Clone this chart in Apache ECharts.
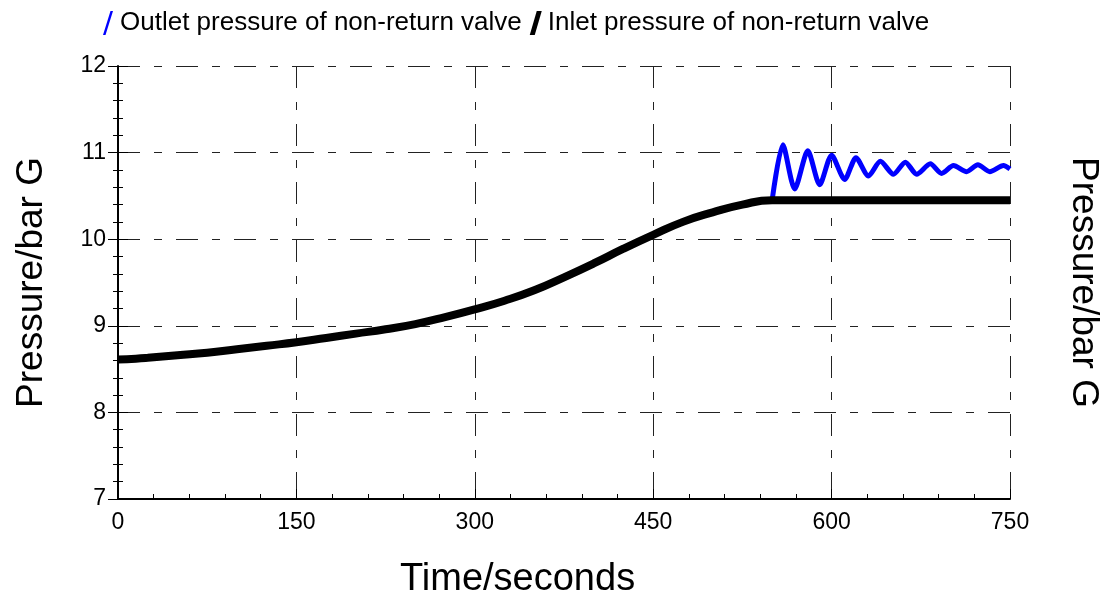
<!DOCTYPE html>
<html>
<head>
<meta charset="utf-8">
<script src="https://cdn.jsdelivr.net/npm/echarts@6/dist/echarts.min.js"></script>
<style>html,body{margin:0;padding:0;background:#fff;overflow:hidden}#c{width:1103px;height:595px}</style>
</head>
<body>
<div id="c"></div>
<script>
var inletTime = [0, 15, 25, 50, 75, 100, 125, 150, 175, 200, 225, 250, 275, 300, 325, 350, 375, 400, 425, 450, 475, 500, 525, 550, 600, 650, 700, 750];
var inletValue = [8.61, 8.62, 8.63, 8.66, 8.69, 8.73, 8.77, 8.81, 8.86, 8.91, 8.96, 9.02, 9.10, 9.19, 9.29, 9.41, 9.56, 9.72, 9.89, 10.05, 10.20, 10.31, 10.40, 10.45, 10.45, 10.45, 10.45, 10.45];
var outletTime = [550, 559, 569, 580, 590, 600, 611, 620.5, 631, 641, 652, 662, 671.5, 683, 692.5, 702.5, 713.5, 723, 733, 744.5, 750];
var outletValue = [10.45, 11.09, 10.58, 11.02, 10.63, 10.97, 10.69, 10.94, 10.73, 10.90, 10.75, 10.89, 10.75, 10.87, 10.76, 10.85, 10.78, 10.86, 10.78, 10.85, 10.81];
var seriesNames = ['Outlet pressure of non-return valve', 'Inlet pressure of non-return valve'];
var xName = 'Time/seconds';
var yName = 'Pressure/bar G';

function pairs(t, v) { return t.map(function (x, i) { return [x, v[i]]; }); }

var FONT = '"Liberation Sans", Arial, sans-serif';
var gridLine = { show: true, lineStyle: { color: '#222', width: 1, type: [22, 14, 8, 14] } };

var chart = echarts.init(document.getElementById('c'));
chart.setOption({
  animation: false,
  backgroundColor: '#fff',
  textStyle: { fontFamily: FONT },
  legend: {
    left: 98, top: 5,
    itemWidth: 14, itemHeight: 24, itemGap: 8,
    textStyle: { fontSize: 26, color: '#000', fontFamily: FONT },
    data: [
      { name: seriesNames[0], icon: 'path://M0,24 L2.5,24 L10,0 L7.5,0 Z' },
      { name: seriesNames[1], icon: 'path://M0,24 L5,24 L12,0 L7,0 Z' }
    ]
  },
  grid: { left: 118, right: 93, top: 66, bottom: 96, outerBoundsMode: 'none', containLabel: false },
  xAxis: {
    type: 'value', min: 0, max: 750, interval: 150,
    axisLine: { show: true, onZero: false, lineStyle: { color: '#000', width: 2 } },
    axisTick: { show: true, inside: true, length: 10, lineStyle: { color: '#000', width: 1 } },
    minorTick: { show: true, splitNumber: 5, length: 5, lineStyle: { color: '#000', width: 1 } },
    axisLabel: { color: '#000', fontSize: 23, margin: 12, fontFamily: FONT },
    splitLine: gridLine
  },
  yAxis: [
    {
      type: 'value', min: 7, max: 12, interval: 1, position: 'left', offset: 0,
      axisLine: { show: true, onZero: false, lineStyle: { color: '#000', width: 2 } },
      axisTick: { show: true, inside: true, length: 10, lineStyle: { color: '#000', width: 1 } },
      minorTick: { show: true, splitNumber: 5, length: 5, lineStyle: { color: '#000', width: 1 } },
      axisLabel: { color: '#000', fontSize: 23, margin: 12, fontFamily: FONT },
      splitLine: gridLine,
      name: yName, nameLocation: 'middle', nameGap: 68,
      nameTextStyle: { fontSize: 37, color: '#000', fontFamily: FONT }
    },
    {
      type: 'value', min: 7, max: 12, interval: 1, position: 'left', offset: 0,
      axisLine: { show: false },
      axisTick: { show: true, inside: false, length: 10, lineStyle: { color: '#000', width: 1 } },
      minorTick: { show: true, splitNumber: 5, length: 5, lineStyle: { color: '#000', width: 1 } },
      axisLabel: { show: false },
      splitLine: { show: false }
    },
    {
      type: 'value', min: 7, max: 12, interval: 1, position: 'right', offset: 0,
      axisLine: { show: false }, axisTick: { show: false }, axisLabel: { show: false },
      splitLine: { show: false },
      name: yName, nameLocation: 'middle', nameGap: 55, nameRotate: -90,
      nameTextStyle: { fontSize: 37, color: '#000', fontFamily: FONT }
    }
  ],
  graphic: [{
    type: 'text', left: 400, top: 561,
    style: { text: xName, fontSize: 38, fill: '#000', fontFamily: FONT }
  }],
  series: [
    {
      name: seriesNames[0], type: 'line', yAxisIndex: 0,
      data: pairs(outletTime, outletValue),
      showSymbol: false, symbol: 'none', smooth: 0.25,
      color: '#0000ff',
      lineStyle: { color: '#0000ff', width: 5 },
      z: 3
    },
    {
      name: seriesNames[1], type: 'line', yAxisIndex: 0,
      data: pairs(inletTime, inletValue),
      showSymbol: false, symbol: 'none', smooth: 0.5,
      color: '#000',
      lineStyle: { color: '#000', width: 8 },
      z: 4
    }
  ]
});
</script>
</body>
</html>
